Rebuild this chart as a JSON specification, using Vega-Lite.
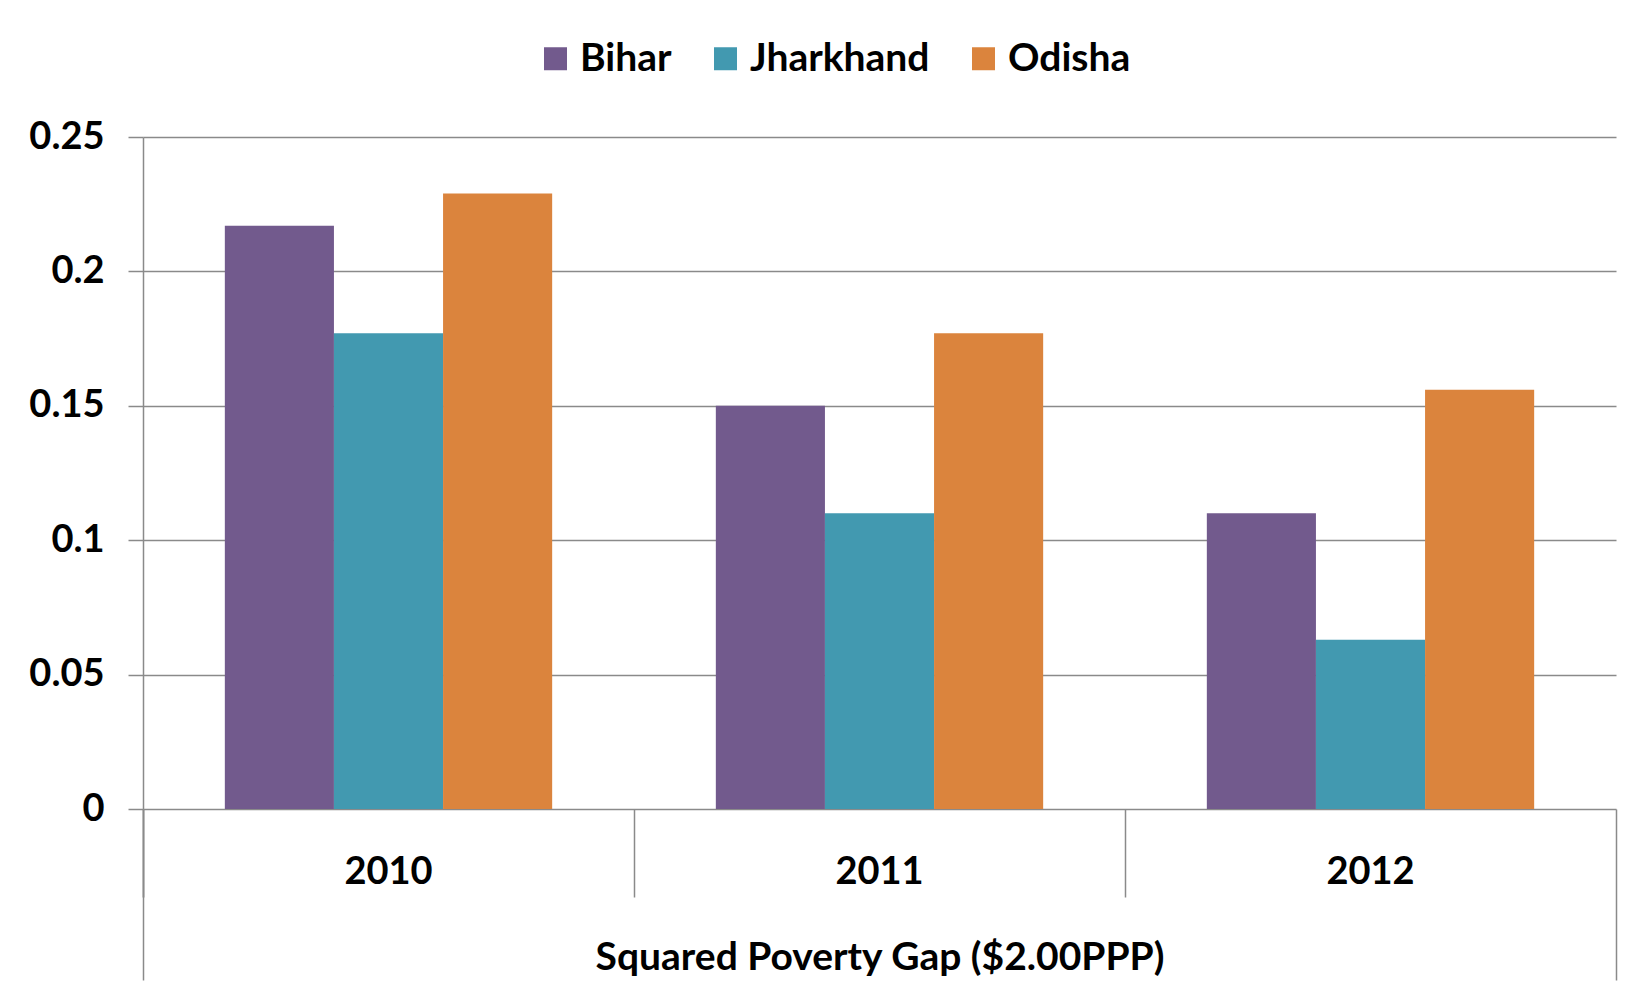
{
  "$schema": "https://vega.github.io/schema/vega-lite/v6.json",
  "width": 1473,
  "height": 672,
  "autosize": {"type": "none"},
  "padding": {"left": 143, "top": 137, "right": 19, "bottom": 185},
  "background": "white",
  "config": {
    "font": "Lato",
    "view": {"stroke": null},
    "axis": {
      "labelFont": "Lato",
      "labelFontWeight": "bold",
      "labelFontSize": 38,
      "labelColor": "#000000",
      "titleFont": "Lato",
      "titleFontWeight": "bold",
      "titleFontSize": 39,
      "titleColor": "#000000",
      "gridColor": "#8a8a8a",
      "gridWidth": 1.5,
      "tickColor": "#8a8a8a",
      "tickWidth": 1.5,
      "domainColor": "#8a8a8a",
      "domainWidth": 1.5
    },
    "legend": {
      "labelFont": "Lato",
      "labelFontWeight": "bold",
      "labelFontSize": 39,
      "labelColor": "#000000",
      "labelLimit": 0
    }
  },
  "data": {
    "values": [
      {"year": "2010", "state": "Bihar", "value": 0.217},
      {"year": "2010", "state": "Jharkhand", "value": 0.177},
      {"year": "2010", "state": "Odisha", "value": 0.229},
      {"year": "2011", "state": "Bihar", "value": 0.150},
      {"year": "2011", "state": "Jharkhand", "value": 0.110},
      {"year": "2011", "state": "Odisha", "value": 0.177},
      {"year": "2012", "state": "Bihar", "value": 0.110},
      {"year": "2012", "state": "Jharkhand", "value": 0.063},
      {"year": "2012", "state": "Odisha", "value": 0.156}
    ]
  },
  "resolve": {"axis": {"x": "independent", "y": "independent"}},
  "layer": [
    {
      "mark": {"type": "bar"},
      "encoding": {
        "x": {
          "field": "year",
          "type": "nominal",
          "scale": {"paddingInner": 0, "paddingOuter": 0},
          "axis": {
            "orient": "bottom",
            "title": "Squared Poverty Gap ($2.00PPP)",
            "titleY": 160,
            "titleBaseline": "alphabetic",
            "labelAngle": 0,
            "bandPosition": 0,
            "tickExtra": true,
            "tickSize": 88,
            "labelPadding": -14,
            "labelBaseline": "alphabetic",
            "domain": false,
            "grid": false
          }
        },
        "xOffset": {
          "field": "state",
          "type": "nominal",
          "scale": {"paddingInner": 0, "paddingOuter": 0.75}
        },
        "y": {
          "field": "value",
          "type": "quantitative",
          "scale": {"domain": [0, 0.25], "nice": false},
          "axis": {
            "title": null,
            "values": [0, 0.05, 0.1, 0.15, 0.2, 0.25],
            "format": ".2~f",
            "tickSize": 15,
            "labelPadding": 24,
            "grid": true,
            "domain": true
          }
        },
        "color": {
          "field": "state",
          "type": "nominal",
          "scale": {
            "domain": ["Bihar", "Jharkhand", "Odisha"],
            "range": ["#725a8d", "#4299b0", "#db843d"]
          },
          "legend": {
            "title": null,
            "orient": "none",
            "direction": "horizontal",
            "legendX": 393,
            "legendY": -98,
            "padding": 0,
            "symbolType": "square",
            "symbolSize": 529,
            "symbolStrokeWidth": 0,
            "symbolOpacity": 1,
            "labelOffset": 5,
            "columnPadding": 34
          }
        }
      }
    },
    {
      "mark": {"type": "bar", "opacity": 0},
      "encoding": {
        "x": {
          "field": "year",
          "type": "nominal",
          "axis": {
            "orient": "bottom",
            "values": ["2010"],
            "bandPosition": 0,
            "tickSize": 171,
            "labels": false,
            "domain": false,
            "grid": false,
            "title": null
          }
        },
        "y": {"field": "value", "type": "quantitative", "axis": null}
      }
    },
    {
      "mark": {"type": "bar", "opacity": 0},
      "encoding": {
        "x": {
          "field": "year",
          "type": "nominal",
          "axis": {
            "orient": "bottom",
            "values": ["2012"],
            "bandPosition": 1,
            "tickSize": 171,
            "labels": false,
            "domain": false,
            "grid": false,
            "title": null
          }
        },
        "y": {"field": "value", "type": "quantitative", "axis": null}
      }
    }
  ]
}
